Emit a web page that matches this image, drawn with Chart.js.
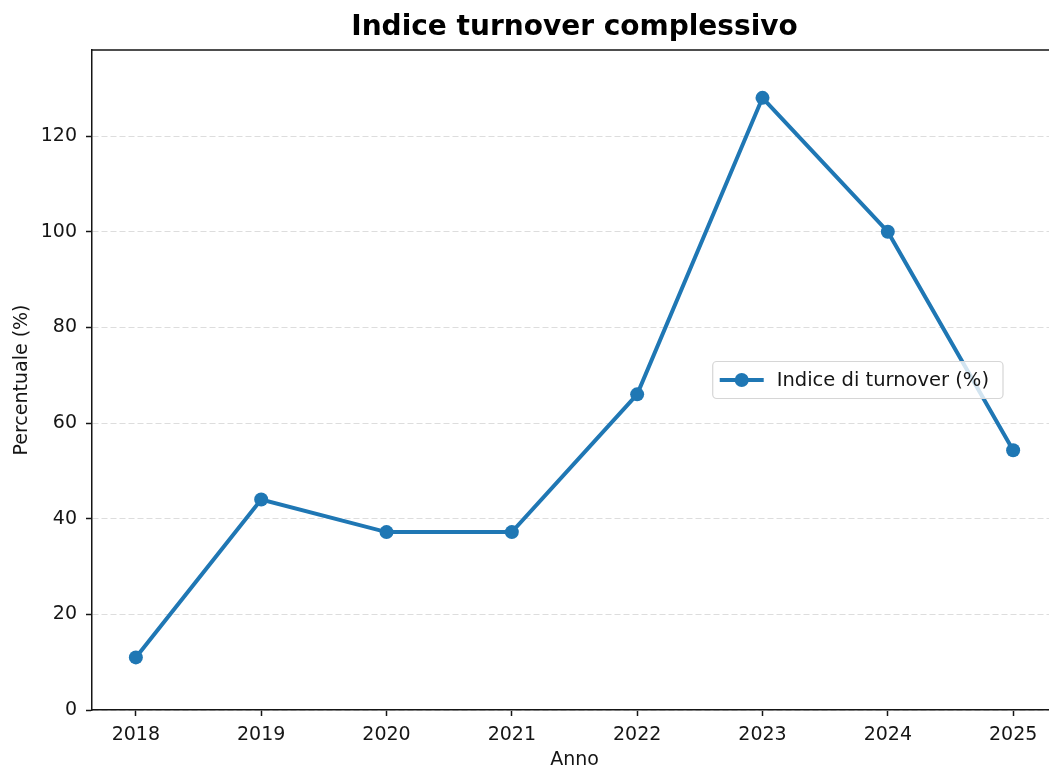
<!DOCTYPE html>
<html>
<head>
<meta charset="utf-8">
<script src="https://cdn.jsdelivr.net/npm/chart.js@4"></script>
<style>
  html, body { margin: 0; padding: 0; background: #fff; overflow: hidden; width: 1049px; height: 770px; }
</style>
</head>
<body>
<!-- canvas is a bit wider than the window: the axes run past the right edge -->
<canvas id="myChart" width="1057" height="770"></canvas>
<script>
const years = [2018, 2019, 2020, 2021, 2022, 2023, 2024, 2025];
const turnover = [11, 44, 37.2, 37.2, 66, 128, 100, 54.3];
const yTicks = [0, 20, 40, 60, 80, 100, 120];

const LINE_COLOR = "#1f77b4";
const INK = "#151515";
const FS = 19;

Chart.defaults.font.family = "'DejaVu Sans', sans-serif";
Chart.defaults.color = INK;

// top/right spines like matplotlib
const frame = {
  id: "frame",
  beforeDatasetsDraw(chart) {
    const { ctx, chartArea: a } = chart;
    ctx.save();
    ctx.strokeStyle = INK;
    ctx.lineWidth = 1.5;
    ctx.beginPath();
    ctx.moveTo(a.left, a.top);
    ctx.lineTo(a.right, a.top);
    ctx.lineTo(a.right, a.bottom);
    ctx.stroke();
    ctx.restore();
  },
};

// legend box drawn inside the axes, centre right
const boxLegend = {
  id: "boxLegend",
  afterDraw(chart) {
    const { ctx, chartArea: a } = chart;
    const ds = chart.data.datasets[0];
    ctx.save();
    ctx.font = "19.5px 'DejaVu Sans', sans-serif";
    const tw = ctx.measureText(ds.label).width;
    const w = 64 + tw + 14;
    const h = 37;
    const right = a.right - 54;
    const x = right - w;
    const y = (a.top + a.bottom) / 2 - h / 2;
    ctx.fillStyle = "rgba(255,255,255,0.8)";
    ctx.strokeStyle = "#d6d6d6";
    ctx.lineWidth = 1.2;
    ctx.beginPath();
    ctx.roundRect(x, y, w, h, 4);
    ctx.fill();
    ctx.stroke();
    const cy = y + h / 2;
    ctx.strokeStyle = ds.borderColor;
    ctx.lineWidth = ds.borderWidth;
    ctx.beginPath();
    ctx.moveTo(x + 7, cy);
    ctx.lineTo(x + 51, cy);
    ctx.stroke();
    ctx.fillStyle = ds.pointBackgroundColor;
    ctx.beginPath();
    ctx.arc(x + 29, cy, ds.pointRadius, 0, Math.PI * 2);
    ctx.fill();
    ctx.fillStyle = INK;
    ctx.textBaseline = "middle";
    ctx.fillText(ds.label, x + 64, cy + 1);
    ctx.restore();
  },
};

const data = {
  datasets: [
    {
      label: "Indice di turnover (%)",
      data: years.map((yr, i) => ({ x: yr, y: turnover[i] })),
      borderColor: LINE_COLOR,
      backgroundColor: LINE_COLOR,
      pointBackgroundColor: LINE_COLOR,
      pointBorderWidth: 0,
      pointRadius: 7,
      borderWidth: 4,
      tension: 0,
      clip: false,
    },
  ],
};

const config = {
  type: "line",
  data: data,
  options: {
    responsive: false,
    animation: false,
    layout: { autoPadding: false, padding: 0 },
    plugins: {
      legend: { display: false },
      tooltip: { enabled: false },
      title: {
        display: true,
        text: "Indice turnover complessivo",
        fullSize: false,
        color: "#000",
        font: { size: 28, weight: "bold" },
        padding: { top: 11, bottom: 5.4 },
      },
    },
    scales: {
      x: {
        type: "linear",
        min: 2017.65,
        max: 2025.35,
        afterBuildTicks: (scale) => {
          scale.ticks = years.map((v) => ({ value: v }));
        },
        afterFit: (scale) => {
          scale.height = 60;
        },
        ticks: {
          font: { size: FS },
          padding: 8,
          maxRotation: 0,
          callback: (v) => String(v),
        },
        grid: {
          drawOnChartArea: false,
          drawTicks: true,
          tickLength: 6,
          tickColor: INK,
          tickWidth: 1.5,
        },
        border: { color: INK, width: 1.5 },
        title: {
          display: true,
          text: "Anno",
          font: { size: FS },
          padding: { top: 0, bottom: -1.5 },
        },
      },
      y: {
        min: 0,
        max: 138,
        afterBuildTicks: (scale) => {
          scale.ticks = yTicks.map((v) => ({ value: v }));
        },
        afterFit: (scale) => {
          scale.width = 92;
        },
        ticks: {
          font: { size: FS },
          padding: 9,
        },
        grid: {
          color: "#dddddd",
          lineWidth: 1,
          tickLength: 6,
          tickColor: INK,
          tickWidth: 1.5,
          tickBorderDash: [],
        },
        border: { color: INK, width: 1.5, dash: [6, 3] },
        title: {
          display: true,
          text: "Percentuale (%)",
          font: { size: FS },
          padding: { top: 10.6, bottom: 0 },
        },
      },
    },
  },
  plugins: [frame, boxLegend],
};

const chart = new Chart(document.getElementById("myChart"), config);
</script>
</body>
</html>
